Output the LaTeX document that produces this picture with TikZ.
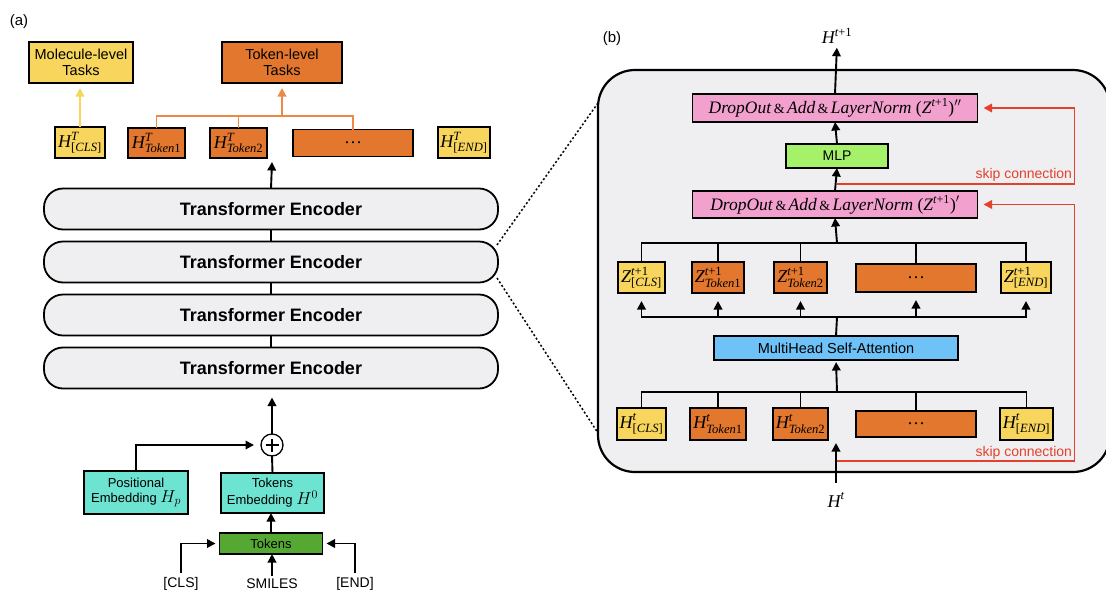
\documentclass[tikz,border=0pt]{standalone}
\usepackage{amsmath}
\usepackage{fontspec}
\setmainfont{Liberation Sans}
\newfontfamily\tms{Liberation Serif}
\usetikzlibrary{arrows.meta,calc}
\definecolor{cY}{HTML}{F8D55C}
\definecolor{cO}{HTML}{E3772E}
\definecolor{cOL}{HTML}{EC8A45}
\definecolor{cTeal}{HTML}{6DE3D1}
\definecolor{cGreen}{HTML}{55A932}
\definecolor{cMLP}{HTML}{A5F26A}
\definecolor{cPink}{HTML}{F2A0CD}
\definecolor{cBlue}{HTML}{6EC2F7}
\definecolor{cGray}{HTML}{EFEEF1}
\definecolor{cRed}{HTML}{E4412C}
\newcommand\ti[1]{\text{\tms\itshape #1}}
\newcommand\tu[1]{\text{\tms #1}}
\newcommand\fsz[1]{\fontsize{#1}{#1}\selectfont}
\newcommand\amp{{\fsz{14}\,\&\,}}
\begin{document}
\begin{tikzpicture}[x=1pt,y=-1pt,
  every node/.style={inner sep=0pt,outer sep=0pt},
  box/.style={draw=black,line width=1.3pt,align=center},
  yel/.style={box,fill=cY},
  org/.style={box,fill=cO},
  mlab/.style={font=\fsz{18}},
  enc/.style={draw=black,line width=1.8pt,fill=cGray,rounded corners=19pt,
    minimum width=454pt,minimum height=41pt,font=\fsz{18}\bfseries},
  conn/.style={draw=black,line width=1.9pt},
  arr/.style={conn,-{Triangle[length=8.5pt,width=8.5pt]}},
  skipl/.style={draw=cRed,line width=1.8pt,-{Triangle[length=8.5pt,width=8.5pt]}},
  skiplab/.style={text=cRed,font=\fsz{14}},
  dots/.style={draw=black,line width=1.5pt,dash pattern=on 2pt off 2.2pt}
]
\useasboundingbox (0,0) rectangle (1106,592);
\fill[white] (0,0) rectangle (1106,592);

% ---------------- (a) ----------------
\node[font=\fsz{15}] (la) at (19,22) {(a)};
\node[yel,minimum width=104pt,minimum height=41pt,font=\fsz{14.5}] (mol) at (81,62.5) {Molecule-level\\[1pt]Tasks};
\node[org,minimum width=120pt,minimum height=41pt,font=\fsz{14.5}] (tok) at (282,62.5) {Token-level\\[1pt]Tasks};

\node[yel,minimum width=50pt,minimum height=31pt,mlab] (hcls) at (80,142.5) {$\ti{H}^{\ti{T}}_{\tu{[}\ti{CLS}\tu{]}}$};
\node[org,minimum width=57pt,minimum height=30pt,mlab] (ht1) at (156.5,143) {$\ti{H}^{\ti{T}}_{\ti{Token}\tu{1}}$};
\node[org,minimum width=57pt,minimum height=30pt,mlab] (ht2) at (238.5,143) {$\ti{H}^{\ti{T}}_{\ti{Token}\tu{2}}$};
\node[org,minimum width=120pt,minimum height=27pt,mlab] (htd) at (353,143) {\tms\ldots};
\node[yel,minimum width=52pt,minimum height=31pt,mlab] (hend) at (464,142.5) {$\ti{H}^{\ti{T}}_{\tu{[}\ti{END}\tu{]}}$};

\draw[draw=cY,line width=1.9pt,-{Triangle[length=8.5pt,width=8.5pt]},shorten >=5pt] (hcls.north) -- (hcls.north |- mol.south);
\coordinate (ob) at (282,116);
\draw[draw=cOL,line width=1.9pt] (ht1.north) |- (ob) -| (htd.north);
\draw[draw=cOL,line width=1.9pt] (ht2.north) -- (ht2.north |- ob);
\draw[draw=cOL,line width=1.9pt,-{Triangle[length=8.5pt,width=8.5pt]},shorten >=5pt] (ob) -- (tok.south);

\node[enc] (e1) at (271,209) {Transformer Encoder};
\node[enc] (e2) at (271,262) {Transformer Encoder};
\node[enc] (e3) at (271,315) {Transformer Encoder};
\node[enc] (e4) at (271,368) {Transformer Encoder};
\draw[conn] (e1.south) -- (e2.north);
\draw[conn] (e2.south) -- (e3.north);
\draw[conn] (e3.south) -- (e4.north);
\coordinate (eout) at (272,162);
\draw[arr] (e1.north) -- (eout);

\node[draw=black,line width=1.3pt,circle,minimum size=22pt] (plus) at (272,445) {};
\draw[line width=1.2pt] ($(plus.center)+(-6.5,0)$) -- ($(plus.center)+(6.5,0)$)
  ($(plus.center)+(0,-6.5)$) -- ($(plus.center)+(0,6.5)$);
\draw[arr,shorten >=9pt] (plus.north) -- (plus.north |- e4.south);

\node[box,fill=cTeal,minimum width=104pt,minimum height=43pt,font=\fsz{13}] (pos) at (136,492.5) {Positional\\[2pt]Embedding {\fsz{17}$H_p$}};
\node[box,fill=cTeal,minimum width=103pt,minimum height=40pt,font=\fsz{13}] (temb) at (272.5,493) {Tokens\\[2pt]Embedding {\fsz{17}$H^0$}};
\draw[arr,shorten >=7pt] (pos.north) |- (plus.west);
\draw[conn] (temb.north) -- (plus.south);

\node[box,fill=cGreen,minimum width=103pt,minimum height=21pt,font=\fsz{13}] (tks) at (271,543.5) {Tokens};
\draw[arr] (tks.north) -- (tks.north |- temb.south);

\node[font=\fsz{14}] (cls) at (181,584) {[CLS]};
\node[font=\fsz{14}] (smi) at (272,584) {SMILES};
\node[font=\fsz{14}] (endl) at (355,584) {[END]};
\draw[arr,shorten <=4pt,shorten >=4pt] (cls.north) |- (tks.west);
\draw[arr,shorten <=4pt,shorten >=4pt] (endl.north) |- (tks.east);
\draw[arr,shorten <=3pt] (smi.north) -- (smi.north |- tks.south);

% ---------------- (b) ----------------
\node[draw=black,line width=2.2pt,fill=cGray,rounded corners=37pt,minimum width=512pt,minimum height=402pt] (blk) at (854,271) {};
\node[font=\fsz{15}] (lb) at (612,39) {(b)};

\draw[dots] (497,245) -- (598,103);
\draw[dots] (497,278) -- (598,433);

\node[mlab] (hout) at (837,36) {$\ti{H}^{\ti{t}\tu{+1}}$};

\node[box,fill=cPink,minimum width=285pt,minimum height=28pt,font=\fsz{17.5}\tms] (do2) at (835,108)
  {\textit{DropOut}\amp\textit{Add}\amp\textit{LayerNorm} $\tu{(}\ti{Z}^{\ti{t}\tu{+1}}\tu{)}''$};
\node[box,fill=cMLP,minimum width=102pt,minimum height=24pt,font=\fsz{14}] (mlp) at (837,156) {MLP};
\node[box,fill=cPink,minimum width=285pt,minimum height=27pt,font=\fsz{17.5}\tms] (do1) at (835,204.5)
  {\textit{DropOut}\amp\textit{Add}\amp\textit{LayerNorm} $\tu{(}\ti{Z}^{\ti{t}\tu{+1}}\tu{)}'$};

\draw[arr,shorten >=4pt] (do2.north) -- (hout.south);
\draw[arr] (mlp.north) -- (do2.south);
\draw[arr] (do1.north) -- (mlp.south);

\node[yel,minimum width=47pt,minimum height=31pt,mlab] (zcls) at (641.5,277.5) {$\ti{Z}^{\ti{t}\tu{+1}}_{\tu{[}\ti{CLS}\tu{]}}$};
\node[org,minimum width=52pt,minimum height=31pt,mlab] (zt1) at (718,277.5) {$\ti{Z}^{\ti{t}\tu{+1}}_{\ti{Token}\tu{1}}$};
\node[org,minimum width=53pt,minimum height=31pt,mlab] (zt2) at (800.5,277.5) {$\ti{Z}^{\ti{t}\tu{+1}}_{\ti{Token}\tu{2}}$};
\node[org,minimum width=120pt,minimum height=28pt,mlab] (zd) at (916,278) {\tms\ldots};
\node[yel,minimum width=50pt,minimum height=31pt,mlab] (zend) at (1026,277.5) {$\ti{Z}^{\ti{t}\tu{+1}}_{\tu{[}\ti{END}\tu{]}}$};

\coordinate (zb) at (837,243);
\draw[conn] (zcls.north) |- (zb) -| (zend.north);
\draw[conn] (zt1.north) -- (zt1.north |- zb);
\draw[conn] (zt2.north) -- (zt2.north |- zb);
\draw[conn] (zd.north) -- (zd.north |- zb);
\draw[arr] (zb) -- (do1.south);

\node[box,fill=cBlue,minimum width=244pt,minimum height=24pt,font=\fsz{14.5}] (mhsa) at (836,348) {MultiHead Self-Attention};
\coordinate (ab) at (837,317);
\draw[conn] (mhsa.north) -- (ab);
\draw[arr,shorten >=8pt] (ab) -| (zcls.south);
\draw[arr,shorten >=8pt] (ab) -| (zend.south);
\draw[arr,shorten >=8pt] (zt1.south |- ab) -- (zt1.south);
\draw[arr,shorten >=8pt] (zt2.south |- ab) -- (zt2.south);
\draw[arr,shorten >=8pt] (zd.south |- ab) -- (zd.south);

\node[yel,minimum width=49pt,minimum height=32pt,mlab] (hc) at (641.5,424) {$\ti{H}^{\ti{t}}_{\tu{[}\ti{CLS}\tu{]}}$};
\node[org,minimum width=56pt,minimum height=32pt,mlab] (h1) at (718,424) {$\ti{H}^{\ti{t}}_{\ti{Token}\tu{1}}$};
\node[org,minimum width=55pt,minimum height=32pt,mlab] (h2) at (800.5,424) {$\ti{H}^{\ti{t}}_{\ti{Token}\tu{2}}$};
\node[org,minimum width=120pt,minimum height=26pt,mlab] (hd) at (916,424) {\tms\ldots};
\node[yel,minimum width=53pt,minimum height=32pt,mlab] (he) at (1026.5,424) {$\ti{H}^{\ti{t}}_{\tu{[}\ti{END}\tu{]}}$};

\coordinate (hb) at (837,392);
\draw[conn] (hc.north) |- (hb) -| (he.north);
\draw[conn] (h1.north) -- (h1.north |- hb);
\draw[conn] (h2.north) -- (h2.north |- hb);
\draw[conn] (hd.north) -- (hd.north |- hb);
\draw[arr,shorten >=2pt] (hb) -- (mhsa.south);

\node[mlab] (hin) at (836,500) {$\ti{H}^{\ti{t}}$};
\coordinate (hintip) at (836,443);
\draw[arr,shorten <=10pt] (hin.north) -- (hintip);

\coordinate (sk1) at (837,184);
\coordinate (sk2) at (837,461);
\draw[skipl,shorten >=6pt] (sk1) -| ($(do2.east)+(97,0)$) -- (do2.east);
\draw[skipl,shorten >=6pt] (sk2) -| ($(do1.east)+(97,0)$) -- (do1.east);
\node[skiplab,anchor=base east] (sl1) at (1072,178) {skip connection};
\node[skiplab,anchor=base east] (sl2) at (1072,456) {skip connection};
\end{tikzpicture}
\end{document}
